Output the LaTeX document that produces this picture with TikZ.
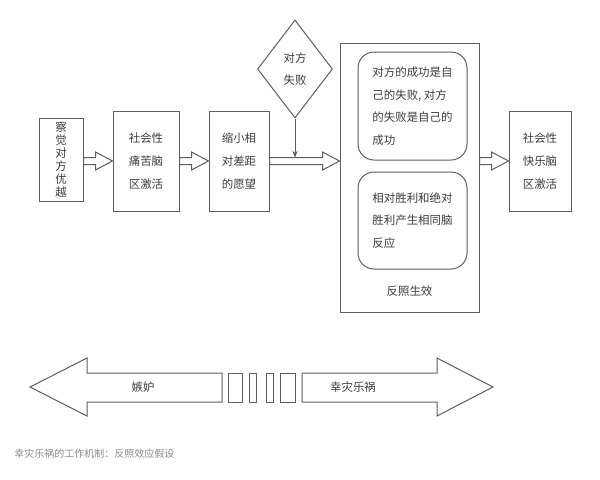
\documentclass[tikz,border=0pt]{standalone}
\usepackage{fontspec}
\setmainfont{Noto Sans CJK SC}
\usetikzlibrary{positioning,arrows.meta,shapes.geometric,calc}
\definecolor{linegray}{HTML}{5E5E5E}
\definecolor{textgray}{HTML}{3C3C3C}
\definecolor{capgray}{HTML}{8A8A8A}

% hollow block arrow from #1 to #2 (both at the same height)
\newcommand{\hollowarrow}[2]{%
  \draw[hollow] ($(#1)+(0,-3.5)$) -- ($(#2)+(-17,-3.5)$) -- ($(#2)+(-17,-9)$) -- (#2)
    -- ($(#2)+(-17,9)$) -- ($(#2)+(-17,3.5)$) -- ($(#1)+(0,3.5)$) -- cycle;}

\begin{document}
\begin{tikzpicture}[
  x=0.75pt, y=-0.75pt,
  box/.style={draw=linegray, line width=0.75pt, text=textgray, align=center,
    inner sep=0pt, font=\fontsize{8.6}{17}\selectfont},
  rbox/.style={box, rounded corners=12pt, align=left, minimum width=81.75pt},
  dia/.style={box, diamond, minimum width=56.25pt, minimum height=73.5pt},
  hollow/.style={draw=linegray, line width=0.75pt, fill=white},
  thin/.style={draw=linegray, line width=0.75pt, -{Stealth[length=5pt,width=4pt]}},
  lbl/.style={text=textgray, inner sep=0pt, font=\fontsize{8.6}{17}\selectfont}
]
\useasboundingbox (0,0) rectangle (600,479);

\node[box, minimum width=33pt, minimum height=62pt, font=\fontsize{8.6}{9.75}\selectfont] (b1) at (61,160)
  {察\\觉\\对\\方\\优\\越};
\node[box, minimum width=49.5pt, minimum height=75pt] (b2) at (146,161) {社会性\\痛苦脑\\区激活};
\node[box, minimum width=45pt, minimum height=75pt] (b3) at (239,161) {缩小相\\对差距\\的愿望};
\node[dia] (d) at (295,69) {对方\\失败};
\node[box, minimum width=104.25pt, minimum height=201.75pt] (big) at (409.5,177.5) {};
\node[rbox, minimum height=81pt] (r1) at (412.5,106)
  {对方的成功是自\\己的失败, 对方\\的失败是自己的\\成功};
\node[rbox, minimum height=72.75pt] (r2) at (412.5,220.5)
  {相对胜利和绝对\\胜利产生相同脑\\反应};
\node[lbl, above=12pt of big.south] (fx) {反照生效};
\node[box, minimum width=46.5pt, minimum height=75pt] (b5) at (540,161) {社会性\\快乐脑\\区激活};

\coordinate (s1) at (b1.east |- b2.west);
\coordinate (s3) at (b3.east);
\coordinate (t3) at (big.west |- b3.east);
\coordinate (s4) at (big.east |- b5.west);
\hollowarrow{s1}{b2.west}
\hollowarrow{b2.east}{b3.west}
\hollowarrow{s3}{t3}
\hollowarrow{s4}{b5.west}
\coordinate (hit) at (295,157.5);
\draw[thin] (d) -- (hit);

% bottom scale
\draw[hollow] (30,387) -- (87,358) -- (87,373) -- (222,373) -- (222,402) -- (87,402) -- (87,416) -- cycle;
\draw[hollow] (302,373) -- (437,373) -- (437,358) -- (493,387) -- (437,416) -- (437,402) -- (302,402) -- cycle;
\draw[hollow] (228,373) rectangle (242,402);
\draw[hollow] (249,373) rectangle (256,402);
\draw[hollow] (266,373) rectangle (273,402);
\draw[hollow] (280,373) rectangle (295,402);
\node[lbl] (jd) at (143,387) {嫉妒};
\node[lbl] (xz) at (353,387) {幸灾乐祸};

\node[anchor=west, text=capgray, inner sep=0pt, font=\fontsize{7.5}{9}\selectfont] (cap) at (14,454)
  {幸灾乐祸的工作机制：反照效应假设};
\end{tikzpicture}
\end{document}
